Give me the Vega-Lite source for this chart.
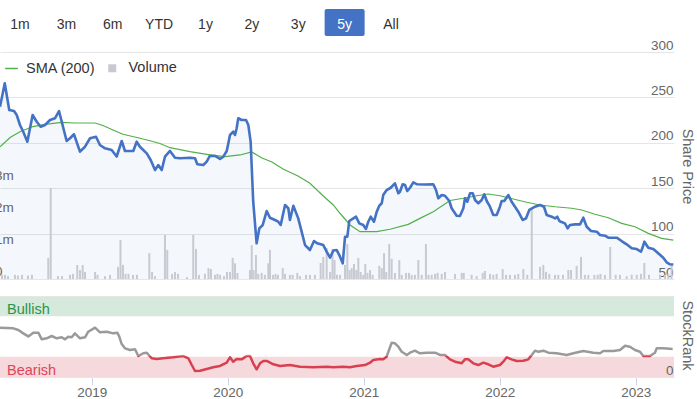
{
  "$schema": "https://vega.github.io/schema/vega-lite/v6.json",
  "width": 674,
  "height": 377,
  "autosize": {"type": "none"},
  "padding": {"left": 0, "top": 0, "right": 23, "bottom": 22},
  "background": "white",
  "config": {"view": {"stroke": null}, "font": "Liberation Sans"},
  "datasets": {
    "buttons": [{"label": "1m"}, {"label": "3m"}, {"label": "6m"}, {"label": "YTD"}, {"label": "1y"}, {"label": "2y"}, {"label": "3y"}, {"label": "5y"}, {"label": "All"}],
    "bands": [{"zone": "Bullish", "from": 75, "to": 100}, {"zone": "Bearish", "from": 0, "to": 25}],
    "price": [
      {"year": 2018.326, "price": 239.8}, {"year": 2018.361, "price": 265.5}, {"year": 2018.394, "price": 236.1}, {"year": 2018.429, "price": 235.0}, {"year": 2018.449, "price": 230.6}, {"year": 2018.473, "price": 219.6}, {"year": 2018.497, "price": 212.2}, {"year": 2018.527, "price": 201.2}, {"year": 2018.566, "price": 230.6}, {"year": 2018.596, "price": 223.2}, {"year": 2018.625, "price": 217.7}, {"year": 2018.657, "price": 219.6}, {"year": 2018.694, "price": 225.1}, {"year": 2018.730, "price": 227.0}, {"year": 2018.760, "price": 235.0}, {"year": 2018.780, "price": 223.2}, {"year": 2018.816, "price": 202.0}, {"year": 2018.841, "price": 205.0}, {"year": 2018.870, "price": 209.4}, {"year": 2018.914, "price": 190.2}, {"year": 2018.951, "price": 195.7}, {"year": 2018.988, "price": 205.0}, {"year": 2019.032, "price": 206.7}, {"year": 2019.061, "price": 197.6}, {"year": 2019.098, "price": 193.9}, {"year": 2019.147, "price": 192.1}, {"year": 2019.184, "price": 184.9}, {"year": 2019.221, "price": 202.0}, {"year": 2019.245, "price": 191.0}, {"year": 2019.306, "price": 191.0}, {"year": 2019.331, "price": 201.2}, {"year": 2019.355, "price": 195.7}, {"year": 2019.405, "price": 188.4}, {"year": 2019.434, "price": 181.1}, {"year": 2019.466, "price": 170.0}, {"year": 2019.490, "price": 175.5}, {"year": 2019.515, "price": 170.0}, {"year": 2019.539, "price": 184.7}, {"year": 2019.576, "price": 191.0}, {"year": 2019.613, "price": 183.6}, {"year": 2019.650, "price": 182.9}, {"year": 2019.723, "price": 183.6}, {"year": 2019.760, "price": 182.9}, {"year": 2019.777, "price": 176.3}, {"year": 2019.821, "price": 175.5}, {"year": 2019.846, "price": 179.2}, {"year": 2019.870, "price": 185.8}, {"year": 2019.907, "price": 185.5}, {"year": 2019.944, "price": 182.2}, {"year": 2019.968, "price": 184.7}, {"year": 2019.993, "price": 191.0}, {"year": 2020.005, "price": 199.4}, {"year": 2020.017, "price": 208.6}, {"year": 2020.041, "price": 212.2}, {"year": 2020.054, "price": 208.6}, {"year": 2020.066, "price": 216.0}, {"year": 2020.078, "price": 227.0}, {"year": 2020.103, "price": 225.1}, {"year": 2020.135, "price": 225.1}, {"year": 2020.152, "price": 219.6}, {"year": 2020.169, "price": 201.2}, {"year": 2020.188, "price": 135.1}, {"year": 2020.213, "price": 89.3}, {"year": 2020.233, "price": 105.8}, {"year": 2020.258, "price": 109.5}, {"year": 2020.287, "price": 124.9}, {"year": 2020.311, "price": 117.5}, {"year": 2020.348, "price": 115.0}, {"year": 2020.372, "price": 113.1}, {"year": 2020.390, "price": 109.5}, {"year": 2020.422, "price": 131.5}, {"year": 2020.446, "price": 127.9}, {"year": 2020.458, "price": 115.0}, {"year": 2020.483, "price": 130.7}, {"year": 2020.519, "price": 116.8}, {"year": 2020.544, "price": 102.1}, {"year": 2020.569, "price": 87.4}, {"year": 2020.605, "price": 81.9}, {"year": 2020.635, "price": 91.8}, {"year": 2020.659, "price": 89.3}, {"year": 2020.703, "price": 87.4}, {"year": 2020.728, "price": 80.1}, {"year": 2020.753, "price": 73.5}, {"year": 2020.777, "price": 81.4}, {"year": 2020.802, "price": 81.9}, {"year": 2020.821, "price": 76.4}, {"year": 2020.846, "price": 67.3}, {"year": 2020.863, "price": 96.6}, {"year": 2020.880, "price": 96.6}, {"year": 2020.894, "price": 113.9}, {"year": 2020.924, "price": 116.8}, {"year": 2020.944, "price": 118.6}, {"year": 2020.968, "price": 111.3}, {"year": 2020.997, "price": 109.5}, {"year": 2021.017, "price": 105.1}, {"year": 2021.034, "price": 113.1}, {"year": 2021.052, "price": 118.6}, {"year": 2021.076, "price": 113.1}, {"year": 2021.096, "price": 124.1}, {"year": 2021.115, "price": 130.7}, {"year": 2021.133, "price": 133.4}, {"year": 2021.144, "price": 142.5}, {"year": 2021.169, "price": 148.0}, {"year": 2021.199, "price": 150.5}, {"year": 2021.230, "price": 155.4}, {"year": 2021.255, "price": 144.4}, {"year": 2021.267, "price": 146.1}, {"year": 2021.287, "price": 154.3}, {"year": 2021.304, "price": 153.5}, {"year": 2021.321, "price": 146.9}, {"year": 2021.341, "price": 150.5}, {"year": 2021.365, "price": 156.5}, {"year": 2021.394, "price": 154.3}, {"year": 2021.451, "price": 154.1}, {"year": 2021.512, "price": 154.3}, {"year": 2021.532, "price": 148.0}, {"year": 2021.549, "price": 138.9}, {"year": 2021.574, "price": 142.5}, {"year": 2021.598, "price": 141.7}, {"year": 2021.630, "price": 135.9}, {"year": 2021.647, "price": 127.9}, {"year": 2021.684, "price": 119.7}, {"year": 2021.708, "price": 119.4}, {"year": 2021.733, "price": 127.9}, {"year": 2021.745, "price": 138.9}, {"year": 2021.762, "price": 135.1}, {"year": 2021.782, "price": 144.4}, {"year": 2021.802, "price": 144.4}, {"year": 2021.819, "price": 137.0}, {"year": 2021.843, "price": 133.4}, {"year": 2021.868, "price": 137.0}, {"year": 2021.887, "price": 143.3}, {"year": 2021.905, "price": 135.9}, {"year": 2021.929, "price": 129.6}, {"year": 2021.953, "price": 120.5}, {"year": 2021.978, "price": 120.5}, {"year": 2022.002, "price": 129.6}, {"year": 2022.015, "price": 135.9}, {"year": 2022.034, "price": 135.9}, {"year": 2022.064, "price": 142.5}, {"year": 2022.088, "price": 135.1}, {"year": 2022.113, "price": 129.6}, {"year": 2022.137, "price": 124.1}, {"year": 2022.169, "price": 115.0}, {"year": 2022.194, "price": 116.8}, {"year": 2022.218, "price": 126.0}, {"year": 2022.260, "price": 129.6}, {"year": 2022.297, "price": 131.5}, {"year": 2022.326, "price": 129.6}, {"year": 2022.346, "price": 120.5}, {"year": 2022.383, "price": 118.6}, {"year": 2022.407, "price": 116.8}, {"year": 2022.424, "price": 118.6}, {"year": 2022.439, "price": 113.9}, {"year": 2022.451, "price": 113.1}, {"year": 2022.480, "price": 111.3}, {"year": 2022.500, "price": 105.8}, {"year": 2022.517, "price": 109.5}, {"year": 2022.554, "price": 110.2}, {"year": 2022.591, "price": 110.2}, {"year": 2022.615, "price": 117.5}, {"year": 2022.640, "price": 107.6}, {"year": 2022.672, "price": 102.9}, {"year": 2022.714, "price": 102.1}, {"year": 2022.738, "price": 98.5}, {"year": 2022.775, "price": 97.7}, {"year": 2022.799, "price": 95.5}, {"year": 2022.861, "price": 95.5}, {"year": 2022.897, "price": 91.8}, {"year": 2022.934, "price": 88.2}, {"year": 2022.971, "price": 83.8}, {"year": 2023.008, "price": 83.0}, {"year": 2023.039, "price": 80.1}, {"year": 2023.049, "price": 83.8}, {"year": 2023.064, "price": 91.1}, {"year": 2023.093, "price": 84.5}, {"year": 2023.130, "price": 83.0}, {"year": 2023.166, "price": 78.3}, {"year": 2023.203, "price": 73.5}, {"year": 2023.228, "price": 68.4}, {"year": 2023.253, "price": 66.2}, {"year": 2023.277, "price": 66.0}
    ],
    "sma": [
      {"year": 2018.326, "sma": 195.7}, {"year": 2018.400, "sma": 205.8}, {"year": 2018.473, "sma": 212.2}, {"year": 2018.569, "sma": 217.9}, {"year": 2018.657, "sma": 220.2}, {"year": 2018.780, "sma": 222.4}, {"year": 2018.877, "sma": 221.8}, {"year": 2019.025, "sma": 221.8}, {"year": 2019.083, "sma": 219.0}, {"year": 2019.157, "sma": 214.1}, {"year": 2019.230, "sma": 209.4}, {"year": 2019.333, "sma": 205.8}, {"year": 2019.429, "sma": 202.3}, {"year": 2019.502, "sma": 199.2}, {"year": 2019.576, "sma": 194.6}, {"year": 2019.723, "sma": 190.2}, {"year": 2019.870, "sma": 186.6}, {"year": 2019.980, "sma": 184.7}, {"year": 2020.091, "sma": 186.6}, {"year": 2020.177, "sma": 189.9}, {"year": 2020.252, "sma": 183.3}, {"year": 2020.326, "sma": 178.9}, {"year": 2020.407, "sma": 171.1}, {"year": 2020.517, "sma": 163.4}, {"year": 2020.605, "sma": 155.4}, {"year": 2020.703, "sma": 141.4}, {"year": 2020.777, "sma": 131.5}, {"year": 2020.826, "sma": 122.4}, {"year": 2020.900, "sma": 109.5}, {"year": 2020.973, "sma": 102.1}, {"year": 2021.096, "sma": 102.1}, {"year": 2021.194, "sma": 104.8}, {"year": 2021.328, "sma": 110.2}, {"year": 2021.414, "sma": 116.8}, {"year": 2021.512, "sma": 124.1}, {"year": 2021.635, "sma": 136.5}, {"year": 2021.733, "sma": 138.9}, {"year": 2021.831, "sma": 141.7}, {"year": 2021.916, "sma": 143.6}, {"year": 2022.002, "sma": 141.7}, {"year": 2022.100, "sma": 138.1}, {"year": 2022.199, "sma": 134.5}, {"year": 2022.297, "sma": 131.5}, {"year": 2022.407, "sma": 129.6}, {"year": 2022.530, "sma": 127.9}, {"year": 2022.603, "sma": 126.0}, {"year": 2022.701, "sma": 121.3}, {"year": 2022.799, "sma": 117.5}, {"year": 2022.897, "sma": 111.3}, {"year": 2022.995, "sma": 107.6}, {"year": 2023.093, "sma": 100.3}, {"year": 2023.191, "sma": 94.8}, {"year": 2023.277, "sma": 92.9}
    ],
    "volume": [
      {"year": 2018.341, "volume": 0.13}, {"year": 2018.363, "volume": 0.13}, {"year": 2018.385, "volume": 0.09}, {"year": 2018.436, "volume": 0.13}, {"year": 2018.458, "volume": 0.11}, {"year": 2018.488, "volume": 0.13}, {"year": 2018.532, "volume": 0.11}, {"year": 2018.561, "volume": 0.13}, {"year": 2018.681, "volume": 0.66}, {"year": 2018.699, "volume": 2.84}, {"year": 2018.752, "volume": 0.09}, {"year": 2018.782, "volume": 0.09}, {"year": 2018.841, "volume": 0.13}, {"year": 2018.863, "volume": 0.16}, {"year": 2018.894, "volume": 0.44}, {"year": 2018.914, "volume": 0.28}, {"year": 2018.934, "volume": 0.44}, {"year": 2018.951, "volume": 0.22}, {"year": 2019.025, "volume": 0.22}, {"year": 2019.043, "volume": 0.13}, {"year": 2019.098, "volume": 0.09}, {"year": 2019.135, "volume": 0.13}, {"year": 2019.194, "volume": 0.38}, {"year": 2019.212, "volume": 1.22}, {"year": 2019.230, "volume": 0.44}, {"year": 2019.249, "volume": 0.16}, {"year": 2019.271, "volume": 0.16}, {"year": 2019.304, "volume": 0.13}, {"year": 2019.333, "volume": 0.13}, {"year": 2019.424, "volume": 0.81}, {"year": 2019.444, "volume": 0.22}, {"year": 2019.466, "volume": 0.09}, {"year": 2019.539, "volume": 1.38}, {"year": 2019.556, "volume": 0.91}, {"year": 2019.591, "volume": 0.16}, {"year": 2019.613, "volume": 0.22}, {"year": 2019.635, "volume": 0.16}, {"year": 2019.701, "volume": 0.06}, {"year": 2019.747, "volume": 1.38}, {"year": 2019.767, "volume": 0.94}, {"year": 2019.789, "volume": 0.13}, {"year": 2019.833, "volume": 0.16}, {"year": 2019.859, "volume": 0.34}, {"year": 2019.877, "volume": 0.31}, {"year": 2019.907, "volume": 0.13}, {"year": 2019.925, "volume": 0.16}, {"year": 2019.944, "volume": 0.13}, {"year": 2019.973, "volume": 0.09}, {"year": 2019.995, "volume": 0.22}, {"year": 2020.017, "volume": 0.22}, {"year": 2020.037, "volume": 0.66}, {"year": 2020.054, "volume": 0.49}, {"year": 2020.072, "volume": 0.19}, {"year": 2020.164, "volume": 0.28}, {"year": 2020.177, "volume": 1.06}, {"year": 2020.190, "volume": 0.28}, {"year": 2020.208, "volume": 0.75}, {"year": 2020.225, "volume": 0.16}, {"year": 2020.250, "volume": 0.19}, {"year": 2020.274, "volume": 0.13}, {"year": 2020.299, "volume": 0.49}, {"year": 2020.311, "volume": 0.91}, {"year": 2020.333, "volume": 0.13}, {"year": 2020.352, "volume": 0.16}, {"year": 2020.370, "volume": 0.13}, {"year": 2020.405, "volume": 0.34}, {"year": 2020.422, "volume": 0.16}, {"year": 2020.458, "volume": 0.13}, {"year": 2020.478, "volume": 0.13}, {"year": 2020.512, "volume": 0.19}, {"year": 2020.532, "volume": 0.09}, {"year": 2020.576, "volume": 0.13}, {"year": 2020.605, "volume": 0.13}, {"year": 2020.642, "volume": 0.13}, {"year": 2020.684, "volume": 0.5}, {"year": 2020.703, "volume": 0.69}, {"year": 2020.728, "volume": 0.97}, {"year": 2020.753, "volume": 0.22}, {"year": 2020.771, "volume": 0.94}, {"year": 2020.786, "volume": 0.59}, {"year": 2020.804, "volume": 0.13}, {"year": 2020.826, "volume": 0.13}, {"year": 2020.863, "volume": 0.44}, {"year": 2020.880, "volume": 1.09}, {"year": 2020.896, "volume": 0.28}, {"year": 2020.912, "volume": 0.34}, {"year": 2020.929, "volume": 0.47}, {"year": 2020.946, "volume": 0.28}, {"year": 2020.961, "volume": 0.66}, {"year": 2020.978, "volume": 0.22}, {"year": 2020.997, "volume": 0.13}, {"year": 2021.012, "volume": 0.47}, {"year": 2021.028, "volume": 0.19}, {"year": 2021.047, "volume": 0.28}, {"year": 2021.066, "volume": 0.13}, {"year": 2021.115, "volume": 0.41}, {"year": 2021.133, "volume": 0.34}, {"year": 2021.150, "volume": 0.81}, {"year": 2021.166, "volume": 0.22}, {"year": 2021.188, "volume": 1.09}, {"year": 2021.206, "volume": 0.63}, {"year": 2021.230, "volume": 0.19}, {"year": 2021.262, "volume": 0.59}, {"year": 2021.280, "volume": 0.13}, {"year": 2021.311, "volume": 0.19}, {"year": 2021.333, "volume": 0.19}, {"year": 2021.353, "volume": 0.13}, {"year": 2021.377, "volume": 0.13}, {"year": 2021.402, "volume": 0.59}, {"year": 2021.427, "volume": 0.13}, {"year": 2021.458, "volume": 1.09}, {"year": 2021.477, "volume": 0.13}, {"year": 2021.500, "volume": 0.13}, {"year": 2021.525, "volume": 0.16}, {"year": 2021.544, "volume": 0.19}, {"year": 2021.574, "volume": 0.16}, {"year": 2021.598, "volume": 0.22}, {"year": 2021.672, "volume": 0.16}, {"year": 2021.721, "volume": 0.19}, {"year": 2021.736, "volume": 0.19}, {"year": 2021.794, "volume": 0.13}, {"year": 2021.831, "volume": 0.09}, {"year": 2021.875, "volume": 0.19}, {"year": 2021.892, "volume": 0.25}, {"year": 2021.929, "volume": 0.16}, {"year": 2021.953, "volume": 0.13}, {"year": 2021.978, "volume": 0.16}, {"year": 2022.022, "volume": 0.31}, {"year": 2022.047, "volume": 0.13}, {"year": 2022.076, "volume": 0.13}, {"year": 2022.113, "volume": 0.13}, {"year": 2022.137, "volume": 0.16}, {"year": 2022.174, "volume": 0.31}, {"year": 2022.203, "volume": 0.13}, {"year": 2022.236, "volume": 2.19}, {"year": 2022.297, "volume": 0.38}, {"year": 2022.321, "volume": 0.44}, {"year": 2022.341, "volume": 0.22}, {"year": 2022.365, "volume": 0.16}, {"year": 2022.407, "volume": 0.13}, {"year": 2022.431, "volume": 0.13}, {"year": 2022.466, "volume": 0.13}, {"year": 2022.505, "volume": 0.28}, {"year": 2022.525, "volume": 0.28}, {"year": 2022.566, "volume": 0.41}, {"year": 2022.598, "volume": 0.69}, {"year": 2022.627, "volume": 0.13}, {"year": 2022.652, "volume": 0.13}, {"year": 2022.696, "volume": 0.13}, {"year": 2022.721, "volume": 0.13}, {"year": 2022.741, "volume": 0.16}, {"year": 2022.774, "volume": 0.13}, {"year": 2022.813, "volume": 1.0}, {"year": 2022.853, "volume": 0.13}, {"year": 2022.885, "volume": 0.13}, {"year": 2022.934, "volume": 0.09}, {"year": 2022.971, "volume": 0.13}, {"year": 2023.008, "volume": 0.13}, {"year": 2023.039, "volume": 0.16}, {"year": 2023.064, "volume": 0.5}, {"year": 2023.098, "volume": 0.13}, {"year": 2023.179, "volume": 0.13}, {"year": 2023.216, "volume": 0.13}, {"year": 2023.240, "volume": 0.16}, {"year": 2023.264, "volume": 0.47}
    ],
    "rank": [
      {"year": 2018.326, "rank": 60.9}, {"year": 2018.424, "rank": 60.1}, {"year": 2018.461, "rank": 58.0}, {"year": 2018.497, "rank": 53.9}, {"year": 2018.534, "rank": 50.1}, {"year": 2018.571, "rank": 54.7}, {"year": 2018.608, "rank": 54.7}, {"year": 2018.633, "rank": 46.5}, {"year": 2018.669, "rank": 47.8}, {"year": 2018.706, "rank": 50.6}, {"year": 2018.743, "rank": 47.8}, {"year": 2018.780, "rank": 49.0}, {"year": 2018.804, "rank": 46.5}, {"year": 2018.828, "rank": 49.8}, {"year": 2018.853, "rank": 49.0}, {"year": 2018.877, "rank": 53.9}, {"year": 2018.914, "rank": 47.8}, {"year": 2018.951, "rank": 49.0}, {"year": 2018.975, "rank": 55.9}, {"year": 2019.025, "rank": 60.9}, {"year": 2019.061, "rank": 55.2}, {"year": 2019.111, "rank": 55.9}, {"year": 2019.159, "rank": 53.9}, {"year": 2019.189, "rank": 54.7}, {"year": 2019.203, "rank": 49.8}, {"year": 2019.221, "rank": 40.7}, {"year": 2019.245, "rank": 35.4}, {"year": 2019.282, "rank": 33.3}, {"year": 2019.319, "rank": 34.2}, {"year": 2019.343, "rank": 25.9}, {"year": 2019.380, "rank": 29.3}, {"year": 2019.405, "rank": 30.0}, {"year": 2019.441, "rank": 23.1}, {"year": 2019.478, "rank": 22.2}, {"year": 2019.527, "rank": 23.1}, {"year": 2019.600, "rank": 24.3}, {"year": 2019.674, "rank": 25.9}, {"year": 2019.711, "rank": 23.1}, {"year": 2019.736, "rank": 14.8}, {"year": 2019.760, "rank": 7.4}, {"year": 2019.797, "rank": 7.8}, {"year": 2019.846, "rank": 9.9}, {"year": 2019.894, "rank": 12.0}, {"year": 2019.944, "rank": 13.6}, {"year": 2019.993, "rank": 17.7}, {"year": 2020.017, "rank": 24.3}, {"year": 2020.041, "rank": 18.9}, {"year": 2020.066, "rank": 22.2}, {"year": 2020.103, "rank": 21.8}, {"year": 2020.140, "rank": 26.0}, {"year": 2020.164, "rank": 25.9}, {"year": 2020.188, "rank": 16.9}, {"year": 2020.213, "rank": 9.5}, {"year": 2020.238, "rank": 16.9}, {"year": 2020.262, "rank": 19.8}, {"year": 2020.287, "rank": 19.8}, {"year": 2020.336, "rank": 15.7}, {"year": 2020.385, "rank": 13.6}, {"year": 2020.458, "rank": 14.8}, {"year": 2020.532, "rank": 12.7}, {"year": 2020.630, "rank": 12.0}, {"year": 2020.728, "rank": 12.7}, {"year": 2020.777, "rank": 12.0}, {"year": 2020.850, "rank": 12.7}, {"year": 2020.900, "rank": 12.0}, {"year": 2020.949, "rank": 13.6}, {"year": 2021.010, "rank": 14.8}, {"year": 2021.047, "rank": 17.7}, {"year": 2021.071, "rank": 21.0}, {"year": 2021.120, "rank": 22.2}, {"year": 2021.144, "rank": 21.8}, {"year": 2021.169, "rank": 25.1}, {"year": 2021.206, "rank": 42.3}, {"year": 2021.230, "rank": 41.6}, {"year": 2021.255, "rank": 37.4}, {"year": 2021.280, "rank": 31.2}, {"year": 2021.317, "rank": 27.2}, {"year": 2021.341, "rank": 30.0}, {"year": 2021.377, "rank": 32.5}, {"year": 2021.414, "rank": 29.3}, {"year": 2021.463, "rank": 30.0}, {"year": 2021.525, "rank": 30.0}, {"year": 2021.561, "rank": 27.2}, {"year": 2021.598, "rank": 27.2}, {"year": 2021.635, "rank": 21.8}, {"year": 2021.672, "rank": 18.9}, {"year": 2021.721, "rank": 16.9}, {"year": 2021.745, "rank": 21.8}, {"year": 2021.769, "rank": 21.8}, {"year": 2021.806, "rank": 16.9}, {"year": 2021.843, "rank": 14.8}, {"year": 2021.880, "rank": 17.7}, {"year": 2021.916, "rank": 15.7}, {"year": 2021.953, "rank": 12.7}, {"year": 2022.002, "rank": 14.8}, {"year": 2022.027, "rank": 18.9}, {"year": 2022.052, "rank": 24.3}, {"year": 2022.088, "rank": 21.8}, {"year": 2022.125, "rank": 19.8}, {"year": 2022.174, "rank": 20.1}, {"year": 2022.211, "rank": 21.8}, {"year": 2022.236, "rank": 27.2}, {"year": 2022.260, "rank": 32.5}, {"year": 2022.284, "rank": 31.2}, {"year": 2022.321, "rank": 32.5}, {"year": 2022.358, "rank": 30.0}, {"year": 2022.419, "rank": 29.3}, {"year": 2022.493, "rank": 27.2}, {"year": 2022.542, "rank": 29.3}, {"year": 2022.615, "rank": 32.1}, {"year": 2022.689, "rank": 30.0}, {"year": 2022.738, "rank": 29.3}, {"year": 2022.762, "rank": 32.1}, {"year": 2022.836, "rank": 32.1}, {"year": 2022.885, "rank": 33.3}, {"year": 2022.922, "rank": 38.6}, {"year": 2022.958, "rank": 37.4}, {"year": 2022.995, "rank": 33.3}, {"year": 2023.032, "rank": 31.2}, {"year": 2023.056, "rank": 25.9}, {"year": 2023.105, "rank": 25.9}, {"year": 2023.142, "rank": 30.0}, {"year": 2023.155, "rank": 35.4}, {"year": 2023.203, "rank": 35.4}, {"year": 2023.272, "rank": 34.6}
    ]
  },
  "layer": [
    {
      "layer": [
        {
          "data": {"name": "price"},
          "mark": {"type": "area", "color": "#4472c4", "fillOpacity": 0.06},
          "encoding": {
            "x": {"field": "year", "type": "quantitative", "scale": {"domain": [2018.326, 2023.282], "nice": false, "zero": false, "padding": 0}, "axis": {"values": [2019, 2020, 2021, 2022, 2023], "format": "d", "grid": false, "domainColor": "#e6e6e6", "tickColor": "#ccd6eb", "tickSize": 8, "labelColor": "#666666", "labelFontSize": 13.5, "labelPadding": 0, "labelFlush": false, "labelOverlap": false, "title": null}},
            "y": {"field": "price", "type": "quantitative", "scale": {"domain": [50, 300], "range": [279, 52], "nice": false, "zero": false}, "axis": null},
            "y2": {"datum": 50}
          }
        },
        {
          "data": {"name": "volume"},
          "mark": {"type": "bar", "size": 2},
          "encoding": {
            "x": {"field": "year", "type": "quantitative", "scale": {"domain": [2018.326, 2023.282], "nice": false, "zero": false, "padding": 0}, "axis": {"values": [2019, 2020, 2021, 2022, 2023], "format": "d", "grid": false, "domainColor": "#e6e6e6", "tickColor": "#ccd6eb", "tickSize": 8, "labelColor": "#666666", "labelFontSize": 13.5, "labelPadding": 0, "labelFlush": false, "labelOverlap": false, "title": null}},
            "y": {"field": "volume", "type": "quantitative", "scale": {"domain": [0, 3], "range": [279, 183], "nice": false}, "axis": {"orient": "left", "values": [0, 1, 2, 3], "labelExpr": "datum.value == 0 ? '0' : datum.value + 'm'", "grid": false, "domain": false, "ticks": false, "labelAlign": "left", "labelPadding": 5.5, "labelBaseline": "alphabetic", "labelOffset": -4, "labelColor": "#666666", "labelFontSize": 13.5, "labelOverlap": false, "labelFlush": false, "title": null}},
            "fill": {"datum": "Volume", "type": "nominal", "scale": {"range": ["#c8cad2"]}, "legend": {"orient": "none", "legendX": 105, "legendY": 61, "symbolType": "square", "symbolSize": 64, "symbolStrokeWidth": 0, "labelFontSize": 14.5, "labelColor": "#333333", "labelOffset": 9, "padding": 0, "title": null}}
          }
        },
        {
          "data": {"name": "sma"},
          "mark": {"type": "line", "strokeWidth": 1.2},
          "encoding": {
            "x": {"field": "year", "type": "quantitative", "scale": {"domain": [2018.326, 2023.282], "nice": false, "zero": false, "padding": 0}, "axis": {"values": [2019, 2020, 2021, 2022, 2023], "format": "d", "grid": false, "domainColor": "#e6e6e6", "tickColor": "#ccd6eb", "tickSize": 8, "labelColor": "#666666", "labelFontSize": 13.5, "labelPadding": 0, "labelFlush": false, "labelOverlap": false, "title": null}},
            "y": {"field": "sma", "type": "quantitative", "scale": {"domain": [50, 300], "range": [279, 52], "nice": false, "zero": false}, "axis": null},
            "stroke": {"datum": "SMA (200)", "type": "nominal", "scale": {"range": ["#52b04a"]}, "legend": {"orient": "none", "legendX": 4, "legendY": 61, "symbolType": "stroke", "symbolSize": 160, "symbolStrokeWidth": 1.5, "labelFontSize": 14.5, "labelColor": "#333333", "labelOffset": 7, "padding": 0, "title": null}}
          }
        },
        {
          "data": {"name": "price"},
          "mark": {"type": "line", "color": "#4472c4", "strokeWidth": 2.6, "strokeJoin": "round"},
          "encoding": {
            "x": {"field": "year", "type": "quantitative", "scale": {"domain": [2018.326, 2023.282], "nice": false, "zero": false, "padding": 0}, "axis": {"values": [2019, 2020, 2021, 2022, 2023], "format": "d", "grid": false, "domainColor": "#e6e6e6", "tickColor": "#ccd6eb", "tickSize": 8, "labelColor": "#666666", "labelFontSize": 13.5, "labelPadding": 0, "labelFlush": false, "labelOverlap": false, "title": null}},
            "y": {"field": "price", "type": "quantitative", "scale": {"domain": [50, 300], "range": [279, 52], "nice": false, "zero": false}, "axis": {"orient": "right", "values": [50, 100, 150, 200, 250, 300], "grid": true, "gridColor": "#e6e6e6", "domain": false, "ticks": false, "labelAlign": "right", "labelPadding": -1, "labelBaseline": "alphabetic", "labelOffset": -3, "labelColor": "#666666", "labelFontSize": 13.5, "labelOverlap": false, "labelFlush": false, "title": "Share Price", "titleX": 12, "titleY": 166, "titleAngle": 90, "titleAlign": "center", "titleBaseline": "middle", "titleColor": "#666666", "titleFontSize": 14.5, "titleFontWeight": "normal"}}
          }
        },
        {
          "data": {"name": "bands"},
          "mark": {"type": "rect"},
          "encoding": {
            "x": {"datum": 2018.326, "type": "quantitative", "scale": {"domain": [2018.326, 2023.282], "nice": false, "zero": false, "padding": 0}},
            "x2": {"datum": 2023.282},
            "y": {"field": "from", "type": "quantitative", "scale": {"domain": [0, 100], "range": [377, 296], "nice": false}, "axis": null},
            "y2": {"field": "to"},
            "color": {"condition": {"test": "datum.zone == 'Bullish'", "value": "#d5e9dc"}, "value": "#f5d9dc"}
          }
        },
        {
          "data": {"name": "bands"},
          "mark": {"type": "text", "align": "left", "baseline": "alphabetic", "dx": 7, "dy": -2, "fontSize": 14.5},
          "encoding": {
            "x": {"datum": 2018.326, "type": "quantitative", "scale": {"domain": [2018.326, 2023.282], "nice": false, "zero": false, "padding": 0}},
            "y": {"field": "from", "type": "quantitative", "scale": {"domain": [0, 100], "range": [377, 296], "nice": false}, "axis": null},
            "text": {"field": "zone"},
            "color": {"condition": {"test": "datum.zone == 'Bullish'", "value": "#2e9447"}, "value": "#dd4656"}
          }
        },
        {
          "data": {"name": "rank"},
          "mark": {"type": "line", "strokeWidth": 2.5, "strokeJoin": "round", "stroke": {"gradient": "linear", "x1": 0, "y1": 0, "x2": 0, "y2": 1, "stops": [{"offset": 0, "color": "#9a9a9a"}, {"offset": 0.643, "color": "#9a9a9a"}, {"offset": 0.643, "color": "#d9404f"}, {"offset": 1, "color": "#d9404f"}]}},
          "encoding": {
            "x": {"field": "year", "type": "quantitative", "scale": {"domain": [2018.326, 2023.282], "nice": false, "zero": false, "padding": 0}, "axis": {"values": [2019, 2020, 2021, 2022, 2023], "format": "d", "grid": false, "domainColor": "#e6e6e6", "tickColor": "#ccd6eb", "tickSize": 8, "labelColor": "#666666", "labelFontSize": 13.5, "labelPadding": 0, "labelFlush": false, "labelOverlap": false, "title": null}},
            "y": {"field": "rank", "type": "quantitative", "scale": {"domain": [0, 100], "range": [377, 296], "nice": false}, "axis": {"orient": "right", "values": [0, 100], "labelExpr": "datum.value == 0 ? '0' : ''", "grid": true, "gridColor": "#e6e6e6", "zindex": 1, "domain": false, "ticks": false, "labelAlign": "right", "labelPadding": -1, "labelBaseline": "alphabetic", "labelOffset": -3, "labelColor": "#666666", "labelFontSize": 13.5, "labelOverlap": false, "labelFlush": false, "title": "StockRank", "titleX": 12, "titleY": 335, "titleAngle": 90, "titleAlign": "center", "titleBaseline": "middle", "titleColor": "#666666", "titleFontSize": 14.5, "titleFontWeight": "normal"}}
          }
        }
      ],
      "resolve": {"scale": {"y": "independent"}}
    },
    {
      "data": {"name": "buttons"},
      "layer": [
        {
          "transform": [{"filter": "datum.label == '5y'"}],
          "mark": {"type": "rect", "cornerRadius": 2, "color": "#4472c4"},
          "encoding": {
            "x": {"field": "label", "type": "nominal", "sort": null, "scale": {"type": "band", "domain": ["1m", "3m", "6m", "YTD", "1y", "2y", "3y", "5y", "All"], "range": [0, 411], "paddingInner": 0.1375, "paddingOuter": 0}, "axis": null},
            "y": {"value": 9},
            "y2": {"value": 36}
          }
        },
        {
          "mark": {"type": "text", "fontSize": 14, "baseline": "alphabetic"},
          "encoding": {
            "x": {"field": "label", "type": "nominal", "sort": null, "scale": {"type": "band", "domain": ["1m", "3m", "6m", "YTD", "1y", "2y", "3y", "5y", "All"], "range": [0, 411], "paddingInner": 0.1375, "paddingOuter": 0}, "axis": null},
            "y": {"value": 28.5},
            "text": {"field": "label"},
            "color": {"condition": {"test": "datum.label == '5y'", "value": "#ffffff"}, "value": "#333333"}
          }
        }
      ]
    }
  ],
  "resolve": {"scale": {"x": "independent", "y": "independent"}}
}
